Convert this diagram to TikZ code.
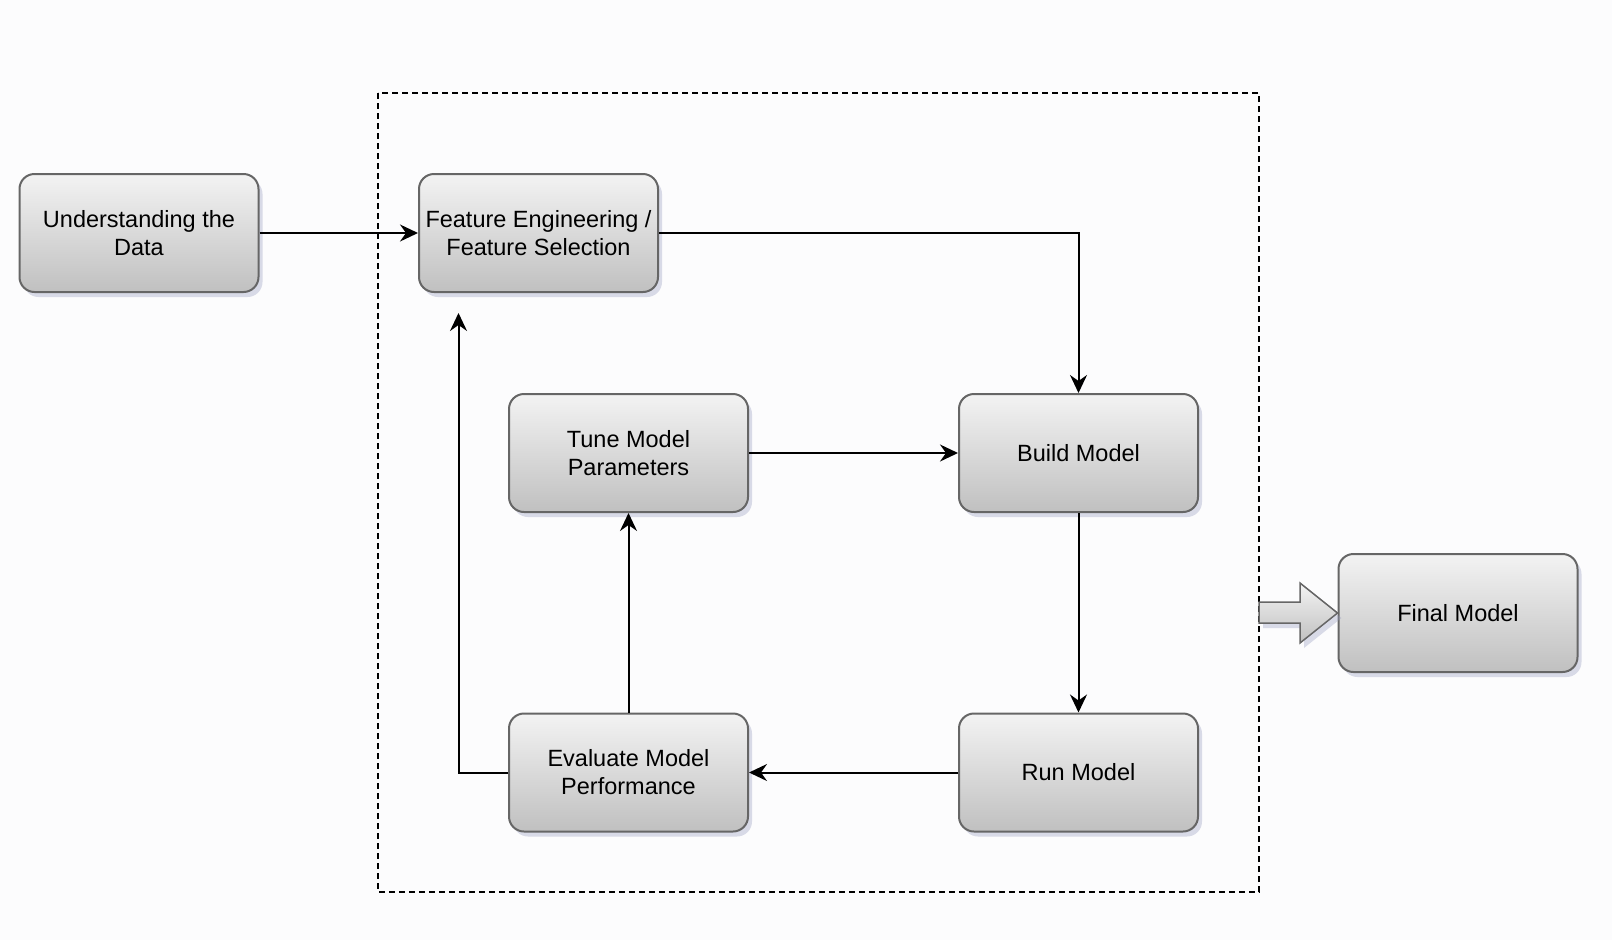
\documentclass[tikz,border=0pt]{standalone}
\usepackage{fontspec}
\setmainfont{Liberation Sans}
\usetikzlibrary{arrows.meta,shadows}

\definecolor{bgcol}{RGB}{252,252,253}
\definecolor{boxtop}{RGB}{243,243,243}
\definecolor{boxbot}{RGB}{192,192,192}
\definecolor{boxline}{RGB}{102,102,102}
\definecolor{shadowcol}{RGB}{150,155,190}

\begin{document}
\begin{tikzpicture}[x=1pt,y=-1pt,
	stepbox/.style={draw=boxline, line width=2pt, rounded corners=15pt,
		top color=boxtop, bottom color=boxbot,
		minimum width=239pt, minimum height=118pt, align=center,
		font=\fontsize{23.5}{28}\selectfont,
		drop shadow={shadow xshift=4pt, shadow yshift=-5pt, fill=shadowcol, opacity=0.35}},
	flow/.style={line width=2pt, -{Stealth[length=18pt,width=17pt,inset=6pt]}}
	]

	\fill[bgcol] (0,0) rectangle (1612,940);
	\useasboundingbox (0,0) rectangle (1612,940);

	% dashed frame round the loop
	\draw[line width=2pt, dash pattern=on 6pt off 4pt] (378,93) rectangle (1259,892);

	\node[stepbox] (understand) at (139,233)    {Understanding the\\Data};
	\node[stepbox] (feature)    at (538.5,233)  {Feature Engineering /\\Feature Selection};
	\node[stepbox] (tune)       at (628.5,453)  {Tune Model\\Parameters};
	\node[stepbox] (build)      at (1078.5,453) {Build Model};
	\node[stepbox] (evaluate)   at (628.5,772.5){Evaluate Model\\Performance};
	\node[stepbox] (run)        at (1078.5,772.5){Run Model};
	\node[stepbox] (final)      at (1458,613)   {Final Model};

	\coordinate (back) at (458.5,313);

	\draw[flow] (understand) -- (feature);
	\draw[flow] (feature.east) -| (build.north);
	\draw[flow] (tune) -- (build);
	\draw[flow] (build) -- (run);
	\draw[flow] (run) -- (evaluate);
	\draw[flow] (evaluate) -- (tune);
	\draw[flow] (evaluate.west) -| (back);

	% block arrow out of the loop
	\draw[draw=boxline, line width=1.5pt, top color=boxtop, bottom color=boxbot,
		drop shadow={shadow xshift=4pt, shadow yshift=-5pt, fill=shadowcol, opacity=0.35}]
		(1259,602) -- (1300,602) -- (1300,583) -- (final.west) -- (1300,643)
		-- (1300,623) -- (1259,623) -- cycle;

\end{tikzpicture}
\end{document}
